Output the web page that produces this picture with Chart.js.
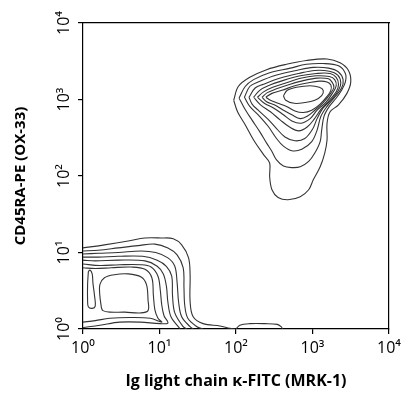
<!DOCTYPE html>
<html>
<head>
<meta charset="utf-8">
<script src="https://cdn.jsdelivr.net/npm/chart.js@4.4.0/dist/chart.umd.min.js"></script>
<style>
  html, body { margin: 0; padding: 0; background: #fff; }
  #wrap { width: 407px; height: 396px; }
</style>
</head>
<body>
<div id="wrap"><canvas id="myChart" width="407" height="396"></canvas></div>
<script>
// decade labels, axes are in log10 units
const tickLabels = ['10⁰', '10¹', '10²', '10³', '10⁴'];
const xTitle = 'Ig light chain κ-FITC (MRK-1)';
const yTitle = 'CD45RA-PE (OX-33)';

// contour lines, [log10 x, log10 y]
// upper right population (outer -> inner)
const hi1 = [[1.97,2.99],[2.03,3.17],[2.18,3.29],[2.40,3.39],[2.66,3.46],[2.92,3.51],[3.19,3.53],[3.36,3.48],[3.47,3.38],[3.50,3.23],[3.45,3.08],[3.34,2.93],[3.23,2.84],[3.19,2.69],[3.19,2.47],[3.16,2.30],[3.10,2.12],[3.01,1.95],[2.95,1.82],[2.84,1.73],[2.68,1.69],[2.55,1.72],[2.47,1.82],[2.44,1.99],[2.44,2.17],[2.36,2.28],[2.23,2.47],[2.12,2.67],[2.02,2.84],[1.97,2.99]];
const hi2 = [[2.04,3.02],[2.12,3.17],[2.23,3.26],[2.44,3.35],[2.71,3.41],[2.92,3.46],[3.14,3.47],[3.34,3.44],[3.43,3.34],[3.43,3.23],[3.38,3.12],[3.31,3.02],[3.22,2.91],[3.15,2.78],[3.12,2.60],[3.10,2.45],[3.03,2.30],[2.95,2.19],[2.84,2.12],[2.73,2.11],[2.62,2.13],[2.53,2.21],[2.47,2.32],[2.40,2.43],[2.31,2.58],[2.21,2.73],[2.12,2.87],[2.04,3.02]];
const hi3 = [[2.11,3.03],[2.18,3.17],[2.29,3.23],[2.53,3.32],[2.79,3.38],[3.01,3.42],[3.21,3.41],[3.34,3.36],[3.40,3.26],[3.38,3.15],[3.29,3.03],[3.19,2.91],[3.11,2.78],[3.06,2.60],[2.99,2.45],[2.86,2.35],[2.73,2.33],[2.62,2.39],[2.53,2.49],[2.42,2.65],[2.29,2.80],[2.18,2.91],[2.11,3.03]];
const hi4 = [[2.17,3.03],[2.25,3.15],[2.36,3.20],[2.58,3.28],[2.82,3.34],[3.03,3.38],[3.22,3.37],[3.33,3.32],[3.37,3.22],[3.34,3.12],[3.25,3.00],[3.14,2.89],[3.06,2.75],[3.00,2.61],[2.90,2.49],[2.77,2.46],[2.64,2.51],[2.53,2.62],[2.42,2.74],[2.29,2.86],[2.21,2.94],[2.17,3.03]];
const hi5 = [[2.23,3.03],[2.31,3.12],[2.42,3.18],[2.62,3.25],[2.84,3.31],[3.05,3.34],[3.23,3.34],[3.31,3.29],[3.34,3.20],[3.31,3.10],[3.22,2.99],[3.11,2.87],[3.02,2.74],[2.93,2.64],[2.82,2.59],[2.70,2.64],[2.58,2.73],[2.45,2.84],[2.32,2.93],[2.23,3.03]];
const hi6 = [[2.28,3.03],[2.36,3.10],[2.48,3.16],[2.66,3.22],[2.86,3.28],[3.05,3.31],[3.22,3.30],[3.29,3.26],[3.31,3.18],[3.26,3.08],[3.18,2.97],[3.06,2.86],[2.97,2.75],[2.85,2.69],[2.73,2.72],[2.62,2.80],[2.49,2.89],[2.37,2.95],[2.28,3.03]];
const hi7 = [[2.34,3.03],[2.41,3.09],[2.53,3.14],[2.71,3.20],[2.89,3.25],[3.06,3.28],[3.21,3.27],[3.26,3.22],[3.28,3.16],[3.23,3.07],[3.14,2.96],[3.03,2.86],[2.93,2.78],[2.84,2.75],[2.73,2.80],[2.62,2.86],[2.50,2.93],[2.40,2.97],[2.34,3.03]];
const hi8 = [[2.39,3.03],[2.47,3.08],[2.60,3.12],[2.77,3.18],[2.95,3.22],[3.09,3.24],[3.19,3.23],[3.24,3.19],[3.24,3.12],[3.19,3.04],[3.10,2.94],[2.99,2.86],[2.88,2.83],[2.77,2.85],[2.66,2.91],[2.55,2.95],[2.45,2.99],[2.39,3.03]];
const hi9 = [[2.62,3.05],[2.67,3.12],[2.79,3.16],[2.97,3.18],[3.09,3.16],[3.14,3.12],[3.12,3.05],[3.03,2.99],[2.90,2.96],[2.76,2.95],[2.65,2.99],[2.62,3.05]];

// lower left population, lines run from the left axis to the bottom axis
const lo1 = [[0,1.06],[0.28,1.10],[0.59,1.15],[0.81,1.19],[1.02,1.19],[1.18,1.18],[1.29,1.10],[1.38,0.93],[1.40,0.71],[1.40,0.36],[1.44,0.16],[1.57,0.07],[1.79,0.04],[1.92,0.01],[1.99,0]];
const lo2 = [[0,1.02],[0.20,1.03],[0.46,1.06],[0.72,1.09],[0.94,1.11],[1.11,1.06],[1.23,0.97],[1.31,0.80],[1.32,0.54],[1.33,0.31],[1.37,0.14],[1.49,0.03],[1.57,0]];
const lo3 = [[0,0.98],[0.20,0.99],[0.46,1.00],[0.76,1.02],[0.95,1.00],[1.11,0.93],[1.20,0.82],[1.23,0.61],[1.25,0.35],[1.29,0.16],[1.40,0.03],[1.44,0]];
const lo4 = [[0,0.94],[0.20,0.94],[0.46,0.95],[0.78,0.95],[0.97,0.90],[1.09,0.82],[1.16,0.69],[1.17,0.44],[1.20,0.21],[1.31,0.03],[1.36,0]];
const lo5 = [[0,0.90],[0.16,0.89],[0.46,0.90],[0.81,0.89],[0.97,0.82],[1.05,0.72],[1.09,0.56],[1.11,0.35],[1.15,0.16],[1.27,0]];
const lo6 = [[0,0.85],[0.22,0.83],[0.48,0.84],[0.75,0.84],[0.89,0.81],[0.98,0.69],[1.01,0.51],[1.03,0.31],[1.06,0.17],[1.11,0.08],[1.01,0.07],[0.75,0.09],[0.48,0.09],[0.22,0.05],[0,0.02]];
const lo7 = [[0,0.80],[0.16,0.79],[0.37,0.80],[0.63,0.81],[0.81,0.78],[0.90,0.67],[0.92,0.44],[0.94,0.25],[0.98,0.14],[1.03,0.09],[0.88,0.14],[0.61,0.15],[0.35,0.14],[0.16,0.11],[0,0.09]];
const lo8 = [[0.24,0.28],[0.22,0.44],[0.22,0.58],[0.28,0.67],[0.41,0.71],[0.59,0.72],[0.76,0.68],[0.83,0.58],[0.85,0.38],[0.85,0.24],[0.75,0.21],[0.55,0.22],[0.35,0.22],[0.26,0.24],[0.24,0.28]];
const lo9 = [[0.07,0.75],[0.06,0.58],[0.06,0.38],[0.07,0.29],[0.12,0.27],[0.16,0.30],[0.15,0.44],[0.13,0.60],[0.12,0.72],[0.09,0.77],[0.07,0.75]];
const lo10 = [[2.00,0],[2.05,0.05],[2.18,0.07],[2.38,0.07],[2.54,0.06],[2.59,0.03],[2.61,0]];

const contours = [hi1, hi2, hi3, hi4, hi5, hi6, hi7, hi8, hi9,
                  lo1, lo2, lo3, lo4, lo5, lo6, lo7, lo8, lo9, lo10];

const FONT = "'Open Sans', 'DejaVu Sans', sans-serif";
const lineColor = '#333';

const datasets = contours.map(c => ({
  data: c.map(p => ({x: p[0], y: p[1]})),
  showLine: true,
  borderColor: lineColor,
  borderWidth: 1.1,
  pointRadius: 0,
  tension: 0.35,
  fill: false
}));

const axisGrid = {
  drawOnChartArea: false,
  drawTicks: true,
  tickLength: 5,
  color: '#000',
  lineWidth: 1.2
};

const config = {
  type: 'scatter',
  data: { datasets: datasets },
  options: {
    responsive: false,
    animation: false,
    layout: { padding: { top: 23, right: 18, left: 0, bottom: 0 } },
    plugins: { legend: { display: false }, tooltip: { enabled: false } },
    scales: {
      x: {
        type: 'linear', position: 'bottom', min: 0, max: 4,
        ticks: {
          stepSize: 1, color: '#000', padding: 5,
          font: { family: FONT, size: 16 },
          callback: (v) => tickLabels[v]
        },
        grid: axisGrid,
        border: { color: '#000', width: 1.2 },
        title: {
          display: true, text: xTitle, color: '#000',
          font: { family: FONT, size: 16, weight: 'bold' },
          padding: { top: 0, bottom: 5 }
        },
        afterFit: (s) => { s.height = 67; }
      },
      y: {
        type: 'linear', position: 'left', min: 0, max: 4,
        ticks: {
          stepSize: 1, color: '#000', padding: 2,
          minRotation: 90, maxRotation: 90, crossAlign: 'center',
          font: { family: FONT, size: 16 },
          callback: (v) => tickLabels[v]
        },
        grid: axisGrid,
        border: { color: '#000', width: 1.2 },
        title: {
          display: true, text: yTitle, color: '#000',
          font: { family: FONT, size: 15, weight: 'bold' },
          padding: { top: 12, bottom: 0 }
        },
        afterFit: (s) => { s.width = 83; }
      },
      xTop: {
        type: 'linear', position: 'top', min: 0, max: 4,
        ticks: { display: false },
        grid: { display: false, drawTicks: false },
        border: { display: true, color: '#000', width: 1.2 },
        afterFit: (s) => { s.height = 0; }
      },
      yRight: {
        type: 'linear', position: 'right', min: 0, max: 4,
        ticks: { display: false },
        grid: { display: false, drawTicks: false },
        border: { display: true, color: '#000', width: 1.2 },
        afterFit: (s) => { s.width = 0; }
      }
    }
  }
};

var ctx = document.getElementById('myChart').getContext('2d');
var myChart = new Chart(ctx, config);
</script>
</body>
</html>
